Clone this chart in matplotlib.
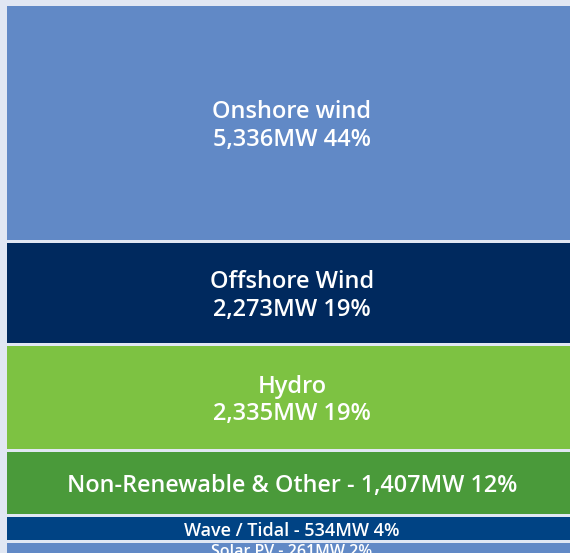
import matplotlib
matplotlib.use('Agg')
import matplotlib.pyplot as plt
from matplotlib.transforms import offset_copy

# ---------------------------------------------------------------------------
# data
# ---------------------------------------------------------------------------
categories = ['Onshore wind', 'Offshore Wind', 'Hydro',
              'Non-Renewable & Other', 'Wave / Tidal', 'Solar PV']
capacity_mw = [5336, 2273, 2335, 1407, 534, 261]
share_pct = [44, 19, 19, 12, 4, 2]

colors = ['#6189c6', '#00295e', '#7dc242', '#4a9a3a', '#004384', '#6189c6']
two_lines = [True, True, True, False, False, False]
font_sizes = [17, 17, 17, 16.8, 13, 11.5]

# ---------------------------------------------------------------------------
# layout (pixels)
# ---------------------------------------------------------------------------
W, H, dpi = 570, 553, 100
px_per_mw = 0.04392
gap_px = 3
top_px, left_px = 6, 7
bg = '#e1e7f3'

fig = plt.figure(figsize=(W / dpi, H / dpi), dpi=dpi)
fig.patch.set_facecolor(bg)
ax = fig.add_axes([left_px / W, 0, 570 / W, (H - top_px) / H])
ax.set_facecolor(bg)

gap_mw = gap_px / px_per_mw
bottoms = []
pos = 0
for v in capacity_mw:
    bottoms.append(pos)
    pos += v + gap_mw

ax.bar([0.5] * len(capacity_mw), capacity_mw, width=1, bottom=bottoms,
       color=colors, linewidth=0, align='center')

# labels sit a touch below the band centre in the original
txt_trans = offset_copy(ax.transData, fig=fig, x=0, y=-3, units='dots')

for name, v, p, b, two, fs in zip(categories, capacity_mw, share_pct,
                                  bottoms, two_lines, font_sizes):
    if two:
        label = f'{name}\n{v:,}MW {p}%'
    else:
        label = f'{name} - {v:,}MW {p}%'
    ax.text(0.5, b + v / 2, label, ha='center', va='center', color='white',
            fontsize=fs, fontfamily='Open Sans', fontweight='semibold',
            linespacing=1.2, transform=txt_trans)

ax.set_xlim(0, 1)
ax.set_ylim((H - top_px) / px_per_mw, 0)
ax.axis('off')

fig.savefig('out.png', dpi=dpi, facecolor=fig.get_facecolor())
